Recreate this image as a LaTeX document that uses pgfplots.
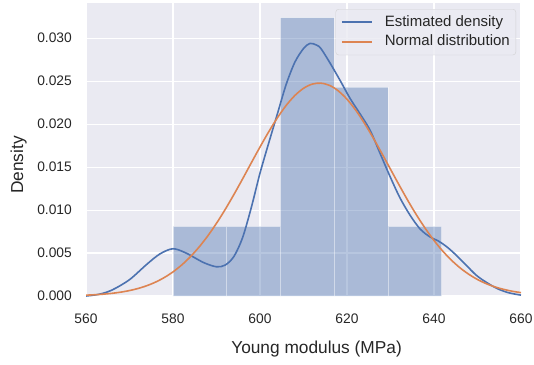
\documentclass[border=0pt]{standalone}
\usepackage{pgfplots}
\pgfplotsset{compat=1.18}
\usepackage{fontspec}
\setmainfont{Liberation Sans}
\definecolor{sbblue}{HTML}{4C72B0}
\definecolor{sborange}{HTML}{DD8452}
\definecolor{sbbg}{HTML}{EAEAF2}
\definecolor{sbtext}{HTML}{262626}
\begin{document}
\begin{tikzpicture}
\path[use as bounding box] (-86pt,-68pt) rectangle (448pt,296pt);
\begin{axis}[
  at={(0pt,0pt)}, anchor=south west,
  scale only axis, width=435pt, height=293pt,
  xmin=560, xmax=660, ymin=0, ymax=0.0341,
  xtick={560,580,600,620,640,660},
  ytick={0,0.005,0.010,0.015,0.020,0.025,0.030},
  scaled y ticks=false,
  /pgf/number format/assume math mode=true,
  yticklabel style={/pgf/number format/fixed, /pgf/number format/fixed zerofill, /pgf/number format/precision=3},
  ticklabel style={font=\fontsize{13.8}{16}\selectfont, text=sbtext},
  yticklabel style={inner sep=0pt, anchor=east, xshift=-14pt},
  xticklabel style={inner sep=0pt, anchor=north, yshift=-18pt},
  major tick length=0pt,
  axis line style={draw=none},
  axis background/.style={fill=sbbg},
  grid=major,
  major grid style={white, line width=1.1pt},
  xlabel={Young modulus (MPa)},
  ylabel={Density},
  every axis x label/.style={at={(axis description cs:0.53,-0.1536)}, anchor=north, inner sep=0pt, font=\fontsize{17.3}{20}\selectfont, text=sbtext},
  every axis y label/.style={at={(axis description cs:-0.1356,0.447)}, rotate=90, anchor=south, inner sep=0pt, font=\fontsize{17.3}{20}\selectfont, text=sbtext},
  legend style={at={(0.9885,0.9795)}, anchor=north east,
    fill=sbbg, fill opacity=0.8, draw=black!20, draw opacity=0.8, text opacity=1,
    rounded corners=3pt, inner sep=5pt, row sep=2.8pt,
    font=\fontsize{15}{18}\selectfont, text=sbtext,
    nodes={inner sep=1pt, text height=11pt, text depth=3.5pt},
    /tikz/every odd column/.append style={column sep=11pt}},
  legend cell align=left,
  legend image code/.code={\draw[#1, line width=2pt, draw opacity=1] (0pt,0pt) -- (30pt,0pt);},
]
\addplot[ybar interval, fill=sbblue, fill opacity=0.4, draw=white, draw opacity=0.45, line width=0.5pt, forget plot]
  coordinates {(580,0.0081) (592.35,0.0081) (604.7,0.0324) (617.05,0.0243) (629.4,0.0081) (641.75,0.0081)};
\addplot[sbblue, line width=1.6pt, smooth] coordinates {
(560,0.0000) (563,0.0002) (566,0.0007) (570,0.0019) (574,0.0037) (577,0.0049)
(580,0.0055) (583,0.0050) (587,0.0039) (590,0.0034) (592,0.0036) (594,0.0046)
(596,0.0068) (598,0.0103) (600,0.0143) (602,0.0178) (604,0.0212) (606,0.0246)
(608,0.0272) (610,0.0288) (611.5,0.0294) (613,0.0292) (614,0.0288) (616,0.0272)
(618.4,0.0251) (620.7,0.0230) (623,0.0212) (625.3,0.0193) (627.6,0.0166)
(629.9,0.0139) (632.2,0.0114) (634.5,0.0094) (636.8,0.0078) (639,0.0069)
(641,0.0064) (643,0.0057) (645,0.0048) (647,0.0038) (650,0.0023) (654,0.0010)
(657,0.0004) (660,0.0001)};
\addlegendentry{Estimated density}
\addplot[sborange, line width=1.6pt, smooth] coordinates {
(560,0.000097) (562,0.000146) (564,0.000215) (566,0.000313) (568,0.000449)
(570,0.000633) (572,0.000880) (574,0.001203) (576,0.001621) (578,0.002149)
(580,0.002807) (582,0.003611) (584,0.004572) (586,0.005702) (588,0.007000)
(590,0.008462) (592,0.010075) (594,0.01181) (596,0.01363) (598,0.01550)
(600,0.01734) (602,0.01911) (604,0.02074) (606,0.02217) (608,0.02333)
(610,0.02417) (612,0.02466) (614,0.02477) (616,0.02451) (618,0.02387)
(620,0.02290) (622,0.02163) (624,0.02011) (626,0.01842) (628,0.01661)
(630,0.01475) (632,0.01290) (634,0.01110) (636,0.00941) (638,0.00786)
(640,0.00646) (642,0.00523) (644,0.00417) (646,0.00327) (648,0.00253)
(650,0.00192) (652,0.00144) (654,0.00106) (656,0.000773) (658,0.000553)
(660,0.000390)};
\addlegendentry{Normal distribution}
\end{axis}
\end{tikzpicture}
\end{document}
